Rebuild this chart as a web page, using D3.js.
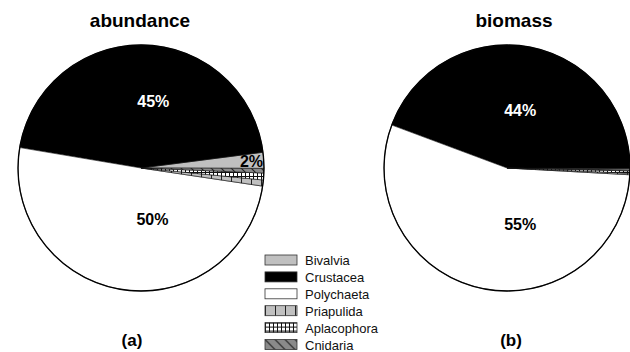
<!DOCTYPE html>
<html>
<head>
<meta charset="utf-8">
<script src="https://cdn.jsdelivr.net/npm/d3@7"></script>
<style>
  html, body { margin: 0; padding: 0; background: #fff; }
  svg { display: block; font-family: "Liberation Sans", Arial, sans-serif; }
</style>
</head>
<body>
<svg id="chart" width="630" height="352"></svg>
<script>
// Taxa, in series order
const taxa = ["Bivalvia", "Crustacea", "Polychaeta", "Priapulida", "Aplacophora", "Cnidaria"];
// Share of each taxon (%)
const abundance = [2.1, 45.3, 50.3, 0.8, 0.9, 0.6];
const biomass   = [0.2, 44.4, 54.8, 0.2, 0.3, 0.1];
// Slice labels shown on each pie
const abundanceLabels = ["2%", "45%", "50%", "", "", ""];
const biomassLabels   = ["", "44%", "55%", "", "", ""];
const panelTitles = ["abundance", "biomass"];
const panelTags = ["(a)", "(b)"];

const svg = d3.select("#chart");
const defs = svg.append("defs");

// Fill patterns
const pPri = defs.append("pattern").attr("id", "pat-pri")
  .attr("patternUnits", "userSpaceOnUse").attr("width", 10).attr("height", 10);
pPri.append("rect").attr("width", 10).attr("height", 10).attr("fill", "#c0c0c0");
pPri.append("line").attr("x1", 0.5).attr("y1", 0).attr("x2", 0.5).attr("y2", 10)
  .attr("stroke", "#222").attr("stroke-width", 1);

const pApl = defs.append("pattern").attr("id", "pat-apl")
  .attr("patternUnits", "userSpaceOnUse").attr("width", 4).attr("height", 4);
pApl.append("rect").attr("width", 4).attr("height", 4).attr("fill", "#fff");
pApl.append("path").attr("d", "M0,0.5H4M0.5,0V4").attr("stroke", "#111").attr("stroke-width", 1);

const pCni = defs.append("pattern").attr("id", "pat-cni")
  .attr("patternUnits", "userSpaceOnUse").attr("width", 10).attr("height", 10);
pCni.append("rect").attr("width", 10).attr("height", 10).attr("fill", "#8a8a8a");
pCni.append("path").attr("d", "M-2,-2L12,12M-2,8L2,12M8,-2L12,2")
  .attr("stroke", "#222").attr("stroke-width", 1.2);

const fills = d3.scaleOrdinal()
  .domain(taxa)
  .range(["#c0c0c0", "#000000", "#ffffff", "url(#pat-pri)", "url(#pat-apl)", "url(#pat-cni)"]);

const radius = 123;
const arc = d3.arc().innerRadius(0).outerRadius(radius);
const labelArc = d3.arc().innerRadius(radius * 0.55).outerRadius(radius * 0.55);

// Slices run counter-clockwise in series order
function drawPie(cx, cy, values, labels, startDeg, labelOffsets) {
  const start = startDeg * Math.PI / 180;
  const arcs = d3.pie().sort(null).value(d => d.value)
    .startAngle(start).endAngle(start - 2 * Math.PI)(
      values.map((v, i) => ({ name: taxa[i], value: v, label: labels[i] })));
  const g = svg.append("g").attr("transform", `translate(${cx},${cy})`);
  g.selectAll("path.slice").data(arcs).join("path")
    .attr("class", "slice")
    .attr("d", arc)
    .attr("fill", d => fills(d.data.name))
    .attr("stroke", "#111")
    .attr("stroke-width", 0.6)
    .attr("stroke-linejoin", "round");
  g.append("circle").attr("r", radius).attr("fill", "none")
    .attr("stroke", "#000").attr("stroke-width", 1.3);
  g.selectAll("text.lbl").data(arcs.filter(d => d.data.label)).join("text")
    .attr("class", "lbl")
    .attr("transform", d => {
      const off = labelOffsets[d.data.name] || [0, 0];
      const c = labelArc.centroid(d);
      return `translate(${c[0] + off[0]},${c[1] + off[1]})`;
    })
    .attr("text-anchor", "middle")
    .attr("dy", "0.35em")
    .attr("font-size", 16)
    .attr("font-weight", "bold")
    .attr("fill", d => d.data.name === "Crustacea" ? "#fff" : "#000")
    .text(d => d.data.label);
}

drawPie(141, 168, abundance, abundanceLabels, 90.2,
  { "Bivalvia": [43, -2], "Crustacea": [11, 1], "Polychaeta": [22, -15] });
drawPie(507, 168, biomass, biomassLabels, 91.0,
  { "Crustacea": [1, 9], "Polychaeta": [27, -10] });

// Panel titles and tags
svg.selectAll("text.title").data(panelTitles).join("text")
  .attr("class", "title")
  .attr("x", (d, i) => [140, 514][i]).attr("y", 27)
  .attr("text-anchor", "middle").attr("font-size", 19).attr("font-weight", "bold")
  .text(d => d);
svg.selectAll("text.tag").data(panelTags).join("text")
  .attr("class", "tag")
  .attr("x", (d, i) => [132, 511][i]).attr("y", 346)
  .attr("text-anchor", "middle").attr("font-size", 17).attr("font-weight", "bold")
  .text(d => d);

// Legend
const legend = svg.append("g").attr("transform", "translate(265,255)");
const rows = legend.selectAll("g").data(taxa).join("g")
  .attr("transform", (d, i) => `translate(0,${i * 16.9})`);
rows.append("rect").attr("width", 32).attr("height", 10)
  .attr("fill", d => fills(d)).attr("stroke", "#333").attr("stroke-width", 0.8);
rows.append("text").attr("x", 40).attr("y", 10).attr("font-size", 13)
  .attr("fill", "#111").text(d => d);
</script>
</body>
</html>
